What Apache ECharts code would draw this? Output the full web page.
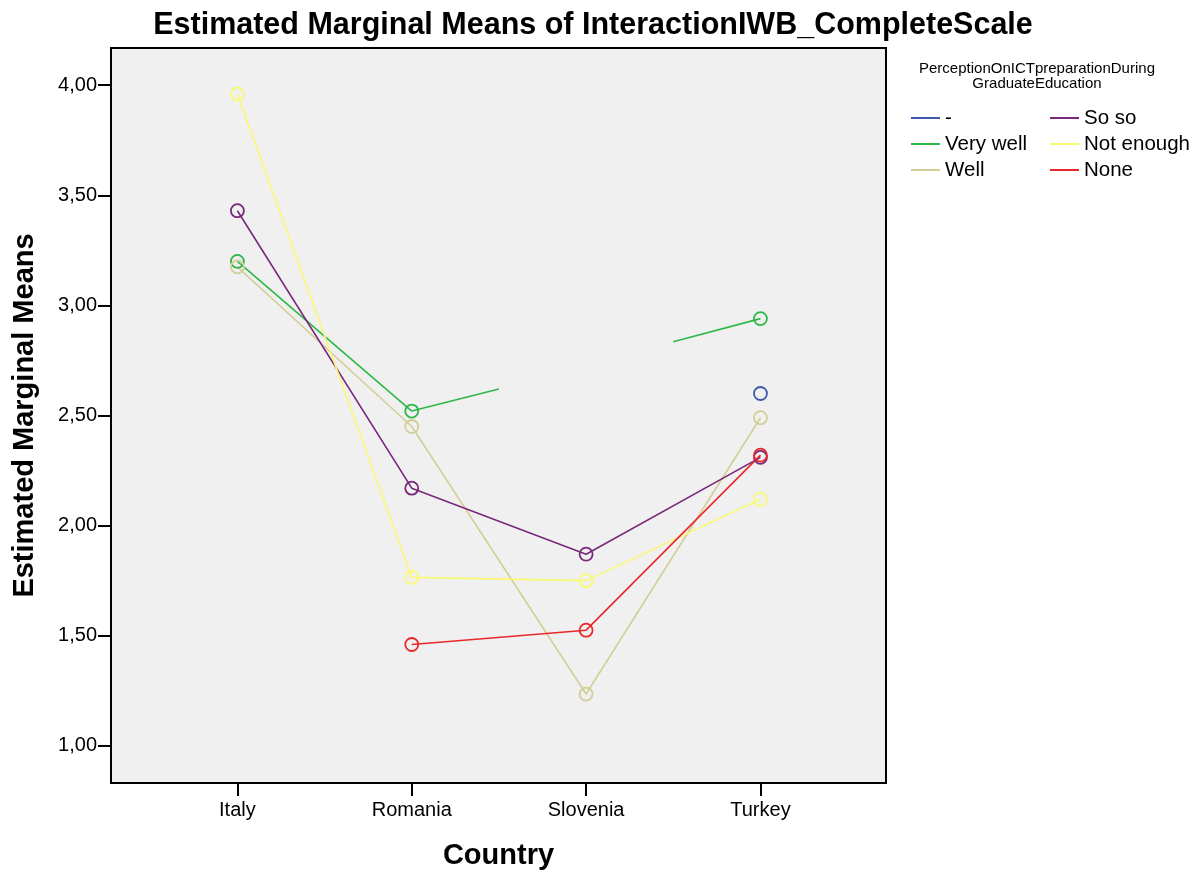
<!DOCTYPE html>
<html>
<head>
<meta charset="utf-8">
<script src="https://cdn.jsdelivr.net/npm/echarts@6/dist/echarts.min.js"></script>
<style>html,body{margin:0;padding:0;background:#fff;}#c{width:1189px;height:877px;}</style>
</head>
<body>
<div id="c"></div>
<script>
var countries = ['Italy', 'Romania', 'Slovenia', 'Turkey'];
var yTicks = [1.0, 1.5, 2.0, 2.5, 3.0, 3.5, 4.0];
var dashValues      = [null, null, null, 2.60];
var veryWellValues  = [3.20, 2.52, null, 2.94];
var veryWellStubs   = [[1.5, 2.62], [2.5, 2.835]];
var wellValues      = [3.175, 2.45, 1.235, 2.49];
var soSoValues      = [3.43, 2.17, 1.87, 2.31];
var notEnoughValues = [3.96, 1.765, 1.75, 2.12];
var noneValues      = [null, 1.46, 1.525, 2.32];

var FONT = '"Liberation Sans", Arial, sans-serif';
var COLORS = { '-': '#3e58ac', 'Very well': '#2eb848', 'Well': '#d3ce97', 'So so': '#79287c', 'Not enough': '#fbf873', 'None': '#e8282b' };

function toData(vals, stubs) {
  var pts = [];
  vals.forEach(function (v, i) {
    pts.push({ value: [i, v == null ? '-' : v] });
  });
  (stubs || []).forEach(function (s) {
    pts.push({ value: [s[0], s[1]], symbol: 'none' });
  });
  pts.sort(function (a, b) { return a.value[0] - b.value[0]; });
  return pts;
}

function mk(name, vals, stubs) {
  var color = COLORS[name];
  return {
    name: name, type: 'line', data: toData(vals, stubs),
    symbol: 'circle', symbolSize: 13, showSymbol: true,
    connectNulls: false, animation: false,
    lineStyle: { color: color, width: 1.6 },
    itemStyle: { color: 'rgba(0,0,0,0)', borderColor: color, borderWidth: 1.8 },
    emphasis: { disabled: true }
  };
}

function legendItems(names) {
  return names.map(function (n) { return { name: n, itemStyle: { color: COLORS[n], borderWidth: 0 } }; });
}

var legendText = { fontFamily: FONT, fontSize: 20.5, color: '#000', lineHeight: 22 };

var chart = echarts.init(document.getElementById('c'));
chart.setOption({
  animation: false,
  backgroundColor: '#ffffff',
  title: [
    { text: 'Estimated Marginal Means of InteractionIWB_CompleteScale', left: 588, textAlign: 'center', top: 5,
      textStyle: { fontFamily: FONT, fontSize: 30.5, fontWeight: 'bold', color: '#000' } },
    { text: 'PerceptionOnICTpreparationDuring\nGraduateEducation', left: 1037, textAlign: 'center', top: 61, padding: 0,
      textStyle: { fontFamily: FONT, fontSize: 15, fontWeight: 'normal', color: '#000', lineHeight: 15 } }
  ],
  grid: { left: 111, right: 303, top: 48, bottom: 94, show: true, backgroundColor: '#f0f0f0', borderColor: '#000', borderWidth: 2 },
  legend: [
    { data: legendItems(['-', 'Very well', 'Well']), orient: 'vertical', left: 911, top: 107, padding: 0,
      icon: 'rect', itemWidth: 29, itemHeight: 2, itemGap: 4, textStyle: legendText, selectedMode: false },
    { data: legendItems(['So so', 'Not enough', 'None']), orient: 'vertical', left: 1050, top: 107, padding: 0,
      icon: 'rect', itemWidth: 29, itemHeight: 2, itemGap: 4, textStyle: legendText, selectedMode: false }
  ],
  xAxis: {
    type: 'value', min: -0.725, max: 3.72,
    name: 'Country', nameLocation: 'middle', nameGap: 58,
    nameTextStyle: { fontFamily: FONT, fontSize: 29, fontWeight: 'bold', color: '#000' },
    axisLine: { show: true, onZero: false, lineStyle: { color: '#000', width: 2 } },
    axisTick: { show: true, customValues: [0, 1, 2, 3], length: 13, lineStyle: { color: '#000', width: 2 } },
    axisLabel: { customValues: [0, 1, 2, 3], formatter: function (v) { return countries[Math.round(v)]; },
      fontFamily: FONT, fontSize: 20, color: '#000', margin: 17 },
    splitLine: { show: false }
  },
  yAxis: {
    type: 'value', min: 0.831, max: 4.169,
    name: 'Estimated Marginal Means', nameLocation: 'middle', nameGap: 72,
    nameTextStyle: { fontFamily: FONT, fontSize: 29, fontWeight: 'bold', color: '#000' },
    axisLine: { show: true, onZero: false, lineStyle: { color: '#000', width: 2 } },
    axisTick: { show: true, customValues: yTicks, length: 13, lineStyle: { color: '#000', width: 2 } },
    axisLabel: { customValues: yTicks, formatter: function (v) { return v.toFixed(2).replace('.', ','); },
      fontFamily: FONT, fontSize: 20, color: '#000', margin: 14 },
    splitLine: { show: false }
  },
  series: [
    mk('-', dashValues),
    mk('Very well', veryWellValues, veryWellStubs),
    mk('Well', wellValues),
    mk('So so', soSoValues),
    mk('Not enough', notEnoughValues),
    mk('None', noneValues)
  ]
});
</script>
</body>
</html>
